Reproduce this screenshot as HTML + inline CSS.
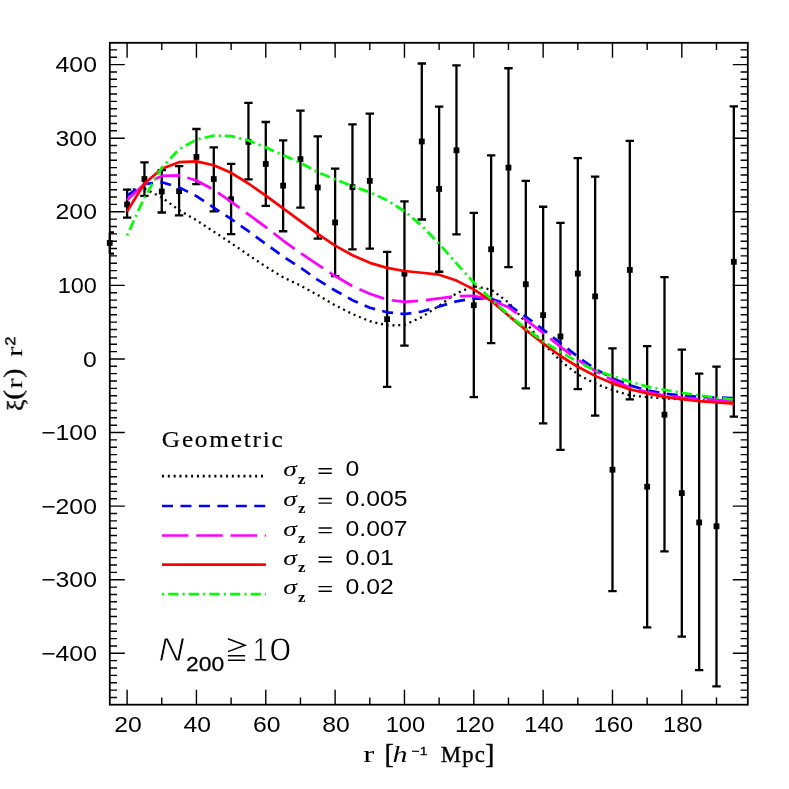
<!DOCTYPE html>
<html lang="en"><head><meta charset="utf-8"><title>xi(r) r^2</title>
<style>html,body{margin:0;padding:0;background:#fff}body{width:789px;height:789px;overflow:hidden;font-family:"Liberation Serif",serif}</style></head>
<body>
<svg width="789" height="789" viewBox="0 0 789 789" style="display:block">
<rect width="789" height="789" fill="#fff"/>
<g><path d="M109.76 232.38 V253.72 M109.76 232.38 h4.20 M109.76 253.72 h4.20" stroke="#000" stroke-width="2.30" fill="none"/><rect x="106.86" y="240.07" width="5.80" height="5.80" fill="#000"/><path d="M127.10 189.69 V217.66 M122.90 189.69 h8.40 M122.90 217.66 h8.40" stroke="#000" stroke-width="2.30" fill="none"/><rect x="124.20" y="201.51" width="5.80" height="5.80" fill="#000"/><path d="M144.44 162.46 V195.95 M140.24 162.46 h8.40 M140.24 195.95 h8.40" stroke="#000" stroke-width="2.30" fill="none"/><rect x="141.53" y="176.12" width="5.80" height="5.80" fill="#000"/><path d="M161.77 170.19 V212.51 M157.57 170.19 h8.40 M157.57 212.51 h8.40" stroke="#000" stroke-width="2.30" fill="none"/><rect x="158.87" y="188.63" width="5.80" height="5.80" fill="#000"/><path d="M179.10 166.14 V215.45 M174.91 166.14 h8.40 M174.91 215.45 h8.40" stroke="#000" stroke-width="2.30" fill="none"/><rect x="176.20" y="188.26" width="5.80" height="5.80" fill="#000"/><path d="M196.44 128.98 V184.17 M192.24 128.98 h8.40 M192.24 184.17 h8.40" stroke="#000" stroke-width="2.30" fill="none"/><rect x="193.54" y="154.05" width="5.80" height="5.80" fill="#000"/><path d="M213.77 147.38 V211.40 M209.57 147.38 h8.40 M209.57 211.40 h8.40" stroke="#000" stroke-width="2.30" fill="none"/><rect x="210.87" y="176.12" width="5.80" height="5.80" fill="#000"/><path d="M231.11 163.94 V234.21 M226.91 163.94 h8.40 M226.91 234.21 h8.40" stroke="#000" stroke-width="2.30" fill="none"/><rect x="228.21" y="196.36" width="5.80" height="5.80" fill="#000"/><path d="M248.44 102.86 V179.39 M244.25 102.86 h8.40 M244.25 179.39 h8.40" stroke="#000" stroke-width="2.30" fill="none"/><rect x="245.54" y="138.96" width="5.80" height="5.80" fill="#000"/><path d="M265.78 121.99 V205.88 M261.58 121.99 h8.40 M261.58 205.88 h8.40" stroke="#000" stroke-width="2.30" fill="none"/><rect x="262.88" y="161.04" width="5.80" height="5.80" fill="#000"/><path d="M283.12 140.39 V231.27 M278.92 140.39 h8.40 M278.92 231.27 h8.40" stroke="#000" stroke-width="2.30" fill="none"/><rect x="280.22" y="182.75" width="5.80" height="5.80" fill="#000"/><path d="M300.45 110.58 V207.72 M296.25 110.58 h8.40 M296.25 207.72 h8.40" stroke="#000" stroke-width="2.30" fill="none"/><rect x="297.55" y="156.25" width="5.80" height="5.80" fill="#000"/><path d="M317.78 136.34 V238.63 M313.58 136.34 h8.40 M313.58 238.63 h8.40" stroke="#000" stroke-width="2.30" fill="none"/><rect x="314.88" y="184.59" width="5.80" height="5.80" fill="#000"/><path d="M335.12 168.72 V276.16 M330.92 168.72 h8.40 M330.92 276.16 h8.40" stroke="#000" stroke-width="2.30" fill="none"/><rect x="332.22" y="219.54" width="5.80" height="5.80" fill="#000"/><path d="M352.46 124.42 V249.45 M348.26 124.42 h8.40 M348.26 249.45 h8.40" stroke="#000" stroke-width="2.30" fill="none"/><rect x="349.56" y="184.22" width="5.80" height="5.80" fill="#000"/><path d="M369.79 113.53 V248.56 M365.59 113.53 h8.40 M365.59 248.56 h8.40" stroke="#000" stroke-width="2.30" fill="none"/><rect x="366.89" y="177.96" width="5.80" height="5.80" fill="#000"/><path d="M387.12 251.88 V386.91 M382.93 251.88 h8.40 M382.93 386.91 h8.40" stroke="#000" stroke-width="2.30" fill="none"/><rect x="384.23" y="316.31" width="5.80" height="5.80" fill="#000"/><path d="M404.46 201.47 V345.70 M400.26 201.47 h8.40 M400.26 345.70 h8.40" stroke="#000" stroke-width="2.30" fill="none"/><rect x="401.56" y="270.69" width="5.80" height="5.80" fill="#000"/><path d="M421.79 63.49 V219.50 M417.59 63.49 h8.40 M417.59 219.50 h8.40" stroke="#000" stroke-width="2.30" fill="none"/><rect x="418.89" y="138.59" width="5.80" height="5.80" fill="#000"/><path d="M439.13 106.54 V271.75 M434.93 106.54 h8.40 M434.93 271.75 h8.40" stroke="#000" stroke-width="2.30" fill="none"/><rect x="436.23" y="186.06" width="5.80" height="5.80" fill="#000"/><path d="M456.47 65.33 V234.36 M452.27 65.33 h8.40 M452.27 234.36 h8.40" stroke="#000" stroke-width="2.30" fill="none"/><rect x="453.57" y="147.42" width="5.80" height="5.80" fill="#000"/><path d="M473.80 212.87 V397.22 M469.60 212.87 h8.40 M469.60 397.22 h8.40" stroke="#000" stroke-width="2.30" fill="none"/><rect x="470.90" y="302.33" width="5.80" height="5.80" fill="#000"/><path d="M491.13 155.33 V343.13 M486.94 155.33 h8.40 M486.94 343.13 h8.40" stroke="#000" stroke-width="2.30" fill="none"/><rect x="488.24" y="246.40" width="5.80" height="5.80" fill="#000"/><path d="M508.47 68.27 V267.18 M504.27 68.27 h8.40 M504.27 267.18 h8.40" stroke="#000" stroke-width="2.30" fill="none"/><rect x="505.57" y="164.72" width="5.80" height="5.80" fill="#000"/><path d="M525.80 180.86 V388.39 M521.60 180.86 h8.40 M521.60 388.39 h8.40" stroke="#000" stroke-width="2.30" fill="none"/><rect x="522.90" y="281.36" width="5.80" height="5.80" fill="#000"/><path d="M543.14 206.77 V423.34 M538.94 206.77 h8.40 M538.94 423.34 h8.40" stroke="#000" stroke-width="2.30" fill="none"/><rect x="540.24" y="312.26" width="5.80" height="5.80" fill="#000"/><path d="M560.48 222.81 V449.83 M556.27 222.81 h8.40 M556.27 449.83 h8.40" stroke="#000" stroke-width="2.30" fill="none"/><rect x="557.58" y="333.61" width="5.80" height="5.80" fill="#000"/><path d="M577.81 158.05 V389.12 M573.61 158.05 h8.40 M573.61 389.12 h8.40" stroke="#000" stroke-width="2.30" fill="none"/><rect x="574.91" y="270.69" width="5.80" height="5.80" fill="#000"/><path d="M595.14 176.59 V415.61 M590.94 176.59 h8.40 M590.94 415.61 h8.40" stroke="#000" stroke-width="2.30" fill="none"/><rect x="592.25" y="293.50" width="5.80" height="5.80" fill="#000"/><path d="M612.48 348.35 V591.20 M608.28 348.35 h8.40 M608.28 591.20 h8.40" stroke="#000" stroke-width="2.30" fill="none"/><rect x="609.58" y="466.80" width="5.80" height="5.80" fill="#000"/><path d="M629.82 140.83 V399.42 M625.62 140.83 h8.40 M625.62 399.42 h8.40" stroke="#000" stroke-width="2.30" fill="none"/><rect x="626.92" y="267.01" width="5.80" height="5.80" fill="#000"/><path d="M647.15 346.15 V627.41 M642.95 346.15 h8.40 M642.95 627.41 h8.40" stroke="#000" stroke-width="2.30" fill="none"/><rect x="644.25" y="483.80" width="5.80" height="5.80" fill="#000"/><path d="M664.49 277.04 V551.46 M660.28 277.04 h8.40 M660.28 551.46 h8.40" stroke="#000" stroke-width="2.30" fill="none"/><rect x="661.59" y="411.76" width="5.80" height="5.80" fill="#000"/><path d="M681.82 349.68 V636.61 M677.62 349.68 h8.40 M677.62 636.61 h8.40" stroke="#000" stroke-width="2.30" fill="none"/><rect x="678.92" y="490.20" width="5.80" height="5.80" fill="#000"/><path d="M699.16 373.67 V670.09 M694.96 373.67 h8.40 M694.96 670.09 h8.40" stroke="#000" stroke-width="2.30" fill="none"/><rect x="696.26" y="519.57" width="5.80" height="5.80" fill="#000"/><path d="M716.49 366.60 V686.28 M712.29 366.60 h8.40 M712.29 686.28 h8.40" stroke="#000" stroke-width="2.30" fill="none"/><rect x="713.59" y="523.39" width="5.80" height="5.80" fill="#000"/><path d="M733.83 106.39 V416.72 M729.62 106.39 h8.40 M729.62 416.72 h8.40" stroke="#000" stroke-width="2.30" fill="none"/><rect x="730.93" y="258.91" width="5.80" height="5.80" fill="#000"/></g>
<path d="M127.10 189.84 L144.44 188.59 L161.77 197.42 L179.10 210.15 L196.44 220.23 L213.77 231.64 L231.11 243.05 L248.44 254.97 L265.78 266.67 L283.12 277.27 L300.45 285.51 L317.78 295.07 L335.12 305.23 L352.46 314.06 L369.79 321.20 L387.12 325.47 L404.46 324.95 L421.79 317.08 L439.13 305.67 L456.47 293.31 L473.80 286.17 L491.13 289.55 L508.47 302.43 L525.80 322.52 L543.14 343.50 L560.48 360.86 L577.81 374.40 L595.14 383.68 L612.48 390.00 L629.82 395.38 L647.15 397.07 L664.49 398.32 L681.82 399.42 L699.16 400.16 L716.49 400.90 L733.83 401.63" fill="none" stroke="#000" stroke-width="2.30" stroke-linejoin="round" stroke-dasharray="2 3.82"/>
<path d="M127.10 195.58 L144.44 184.03 L161.77 182.19 L179.10 187.34 L196.44 196.17 L213.77 207.58 L231.11 218.98 L248.44 231.20 L265.78 243.86 L283.12 256.51 L300.45 267.70 L317.78 279.84 L335.12 290.51 L352.46 300.15 L369.79 307.73 L387.12 312.29 L404.46 314.06 L421.79 311.56 L439.13 306.48 L456.47 301.40 L473.80 298.39 L491.13 298.68 L508.47 304.79 L525.80 316.71 L543.14 329.51 L560.48 343.13 L577.81 356.74 L595.14 368.88 L612.48 378.30 L629.82 385.37 L647.15 390.45 L664.49 393.54 L681.82 395.60 L699.16 396.85 L716.49 397.58 L733.83 398.03" fill="none" stroke="#0000ff" stroke-width="2.70" stroke-linejoin="round" stroke-dasharray="11 7.45"/>
<path d="M127.10 200.00 L144.44 184.03 L161.77 175.93 L179.10 175.42 L196.44 180.49 L213.77 189.84 L231.11 201.76 L248.44 214.42 L265.78 227.08 L283.12 240.54 L300.45 252.98 L317.78 264.61 L335.12 276.01 L352.46 286.17 L369.79 293.82 L387.12 299.64 L404.46 301.92 L421.79 300.67 L439.13 298.39 L456.47 296.10 L473.80 295.81 L491.13 299.86 L508.47 307.29 L525.80 320.02 L543.14 332.83 L560.48 346.81 L577.81 359.83 L595.14 370.95 L612.48 380.14 L629.82 387.50 L647.15 392.07 L664.49 395.52 L681.82 397.58 L699.16 399.06 L716.49 400.16 L733.83 400.90" fill="none" stroke="#ff00ff" stroke-width="2.70" stroke-linejoin="round" stroke-dasharray="26.4 7.9"/>
<path d="M127.10 211.40 L144.44 183.51 L161.77 168.79 L179.10 162.17 L196.44 161.43 L213.77 165.26 L231.11 172.84 L248.44 183.51 L265.78 195.65 L283.12 208.38 L300.45 221.04 L317.78 233.85 L335.12 245.62 L352.46 255.26 L369.79 262.84 L387.12 267.92 L404.46 271.01 L421.79 272.78 L439.13 274.69 L456.47 280.58 L473.80 289.41 L491.13 300.81 L508.47 315.53 L525.80 329.88 L543.14 343.35 L560.48 356.01 L577.81 366.75 L595.14 375.88 L612.48 383.38 L629.82 389.20 L647.15 393.46 L664.49 396.85 L681.82 399.06 L699.16 401.19 L716.49 402.44 L733.83 403.55" fill="none" stroke="#ff0000" stroke-width="2.70" stroke-linejoin="round"/>
<path d="M127.10 235.47 L144.44 197.49 L161.77 167.76 L179.10 149.29 L196.44 139.65 L213.77 135.60 L231.11 136.12 L248.44 140.39 L265.78 147.53 L283.12 155.11 L300.45 162.83 L317.78 172.10 L335.12 179.39 L352.46 186.31 L369.79 192.12 L387.12 200.22 L404.46 211.25 L421.79 225.60 L439.13 243.78 L456.47 263.36 L473.80 282.56 L491.13 298.97 L508.47 314.65 L525.80 328.56 L543.14 341.29 L560.48 351.96 L577.81 361.89 L595.14 370.36 L612.48 376.02 L629.82 381.62 L647.15 386.55 L664.49 389.78 L681.82 392.73 L699.16 395.38 L716.49 397.58 L733.83 399.42" fill="none" stroke="#00ff00" stroke-width="2.70" stroke-linejoin="round" stroke-dasharray="2.1 4.1 10.2 4.2"/>
<path d="M127.10 704.70 v-15.00 M127.10 42.80 v15.00 M161.77 704.70 v-7.20 M161.77 42.80 v7.20 M196.44 704.70 v-15.00 M196.44 42.80 v15.00 M231.11 704.70 v-7.20 M231.11 42.80 v7.20 M265.78 704.70 v-15.00 M265.78 42.80 v15.00 M300.45 704.70 v-7.20 M300.45 42.80 v7.20 M335.12 704.70 v-15.00 M335.12 42.80 v15.00 M369.79 704.70 v-7.20 M369.79 42.80 v7.20 M404.46 704.70 v-15.00 M404.46 42.80 v15.00 M439.13 704.70 v-7.20 M439.13 42.80 v7.20 M473.80 704.70 v-15.00 M473.80 42.80 v15.00 M508.47 704.70 v-7.20 M508.47 42.80 v7.20 M543.14 704.70 v-15.00 M543.14 42.80 v15.00 M577.81 704.70 v-7.20 M577.81 42.80 v7.20 M612.48 704.70 v-15.00 M612.48 42.80 v15.00 M647.15 704.70 v-7.20 M647.15 42.80 v7.20 M681.82 704.70 v-15.00 M681.82 42.80 v15.00 M716.49 704.70 v-7.20 M716.49 42.80 v7.20 M109.80 697.46 h7.20 M747.80 697.46 h-7.20 M109.80 690.11 h7.20 M747.80 690.11 h-7.20 M109.80 682.75 h7.20 M747.80 682.75 h-7.20 M109.80 675.39 h7.20 M747.80 675.39 h-7.20 M109.80 668.03 h7.20 M747.80 668.03 h-7.20 M109.80 660.67 h7.20 M747.80 660.67 h-7.20 M109.80 653.31 h15.00 M747.80 653.31 h-15.00 M109.80 645.95 h7.20 M747.80 645.95 h-7.20 M109.80 638.59 h7.20 M747.80 638.59 h-7.20 M109.80 631.23 h7.20 M747.80 631.23 h-7.20 M109.80 623.87 h7.20 M747.80 623.87 h-7.20 M109.80 616.51 h7.20 M747.80 616.51 h-7.20 M109.80 609.16 h7.20 M747.80 609.16 h-7.20 M109.80 601.80 h7.20 M747.80 601.80 h-7.20 M109.80 594.44 h7.20 M747.80 594.44 h-7.20 M109.80 587.08 h7.20 M747.80 587.08 h-7.20 M109.80 579.72 h15.00 M747.80 579.72 h-15.00 M109.80 572.36 h7.20 M747.80 572.36 h-7.20 M109.80 565.00 h7.20 M747.80 565.00 h-7.20 M109.80 557.64 h7.20 M747.80 557.64 h-7.20 M109.80 550.28 h7.20 M747.80 550.28 h-7.20 M109.80 542.92 h7.20 M747.80 542.92 h-7.20 M109.80 535.57 h7.20 M747.80 535.57 h-7.20 M109.80 528.21 h7.20 M747.80 528.21 h-7.20 M109.80 520.85 h7.20 M747.80 520.85 h-7.20 M109.80 513.49 h7.20 M747.80 513.49 h-7.20 M109.80 506.13 h15.00 M747.80 506.13 h-15.00 M109.80 498.77 h7.20 M747.80 498.77 h-7.20 M109.80 491.41 h7.20 M747.80 491.41 h-7.20 M109.80 484.05 h7.20 M747.80 484.05 h-7.20 M109.80 476.69 h7.20 M747.80 476.69 h-7.20 M109.80 469.33 h7.20 M747.80 469.33 h-7.20 M109.80 461.98 h7.20 M747.80 461.98 h-7.20 M109.80 454.62 h7.20 M747.80 454.62 h-7.20 M109.80 447.26 h7.20 M747.80 447.26 h-7.20 M109.80 439.90 h7.20 M747.80 439.90 h-7.20 M109.80 432.54 h15.00 M747.80 432.54 h-15.00 M109.80 425.18 h7.20 M747.80 425.18 h-7.20 M109.80 417.82 h7.20 M747.80 417.82 h-7.20 M109.80 410.46 h7.20 M747.80 410.46 h-7.20 M109.80 403.10 h7.20 M747.80 403.10 h-7.20 M109.80 395.75 h7.20 M747.80 395.75 h-7.20 M109.80 388.39 h7.20 M747.80 388.39 h-7.20 M109.80 381.03 h7.20 M747.80 381.03 h-7.20 M109.80 373.67 h7.20 M747.80 373.67 h-7.20 M109.80 366.31 h7.20 M747.80 366.31 h-7.20 M109.80 358.95 h15.00 M747.80 358.95 h-15.00 M109.80 351.59 h7.20 M747.80 351.59 h-7.20 M109.80 344.23 h7.20 M747.80 344.23 h-7.20 M109.80 336.87 h7.20 M747.80 336.87 h-7.20 M109.80 329.51 h7.20 M747.80 329.51 h-7.20 M109.80 322.15 h7.20 M747.80 322.15 h-7.20 M109.80 314.80 h7.20 M747.80 314.80 h-7.20 M109.80 307.44 h7.20 M747.80 307.44 h-7.20 M109.80 300.08 h7.20 M747.80 300.08 h-7.20 M109.80 292.72 h7.20 M747.80 292.72 h-7.20 M109.80 285.36 h15.00 M747.80 285.36 h-15.00 M109.80 278.00 h7.20 M747.80 278.00 h-7.20 M109.80 270.64 h7.20 M747.80 270.64 h-7.20 M109.80 263.28 h7.20 M747.80 263.28 h-7.20 M109.80 255.92 h7.20 M747.80 255.92 h-7.20 M109.80 248.56 h7.20 M747.80 248.56 h-7.20 M109.80 241.21 h7.20 M747.80 241.21 h-7.20 M109.80 233.85 h7.20 M747.80 233.85 h-7.20 M109.80 226.49 h7.20 M747.80 226.49 h-7.20 M109.80 219.13 h7.20 M747.80 219.13 h-7.20 M109.80 211.77 h15.00 M747.80 211.77 h-15.00 M109.80 204.41 h7.20 M747.80 204.41 h-7.20 M109.80 197.05 h7.20 M747.80 197.05 h-7.20 M109.80 189.69 h7.20 M747.80 189.69 h-7.20 M109.80 182.33 h7.20 M747.80 182.33 h-7.20 M109.80 174.97 h7.20 M747.80 174.97 h-7.20 M109.80 167.62 h7.20 M747.80 167.62 h-7.20 M109.80 160.26 h7.20 M747.80 160.26 h-7.20 M109.80 152.90 h7.20 M747.80 152.90 h-7.20 M109.80 145.54 h7.20 M747.80 145.54 h-7.20 M109.80 138.18 h15.00 M747.80 138.18 h-15.00 M109.80 130.82 h7.20 M747.80 130.82 h-7.20 M109.80 123.46 h7.20 M747.80 123.46 h-7.20 M109.80 116.10 h7.20 M747.80 116.10 h-7.20 M109.80 108.74 h7.20 M747.80 108.74 h-7.20 M109.80 101.38 h7.20 M747.80 101.38 h-7.20 M109.80 94.03 h7.20 M747.80 94.03 h-7.20 M109.80 86.67 h7.20 M747.80 86.67 h-7.20 M109.80 79.31 h7.20 M747.80 79.31 h-7.20 M109.80 71.95 h7.20 M747.80 71.95 h-7.20 M109.80 64.59 h15.00 M747.80 64.59 h-15.00 M109.80 57.23 h7.20 M747.80 57.23 h-7.20 M109.80 49.87 h7.20 M747.80 49.87 h-7.20" stroke="#000" stroke-width="1.40" fill="none"/>
<rect x="109.80" y="42.80" width="638.00" height="661.90" fill="none" stroke="#000" stroke-width="1.8"/>
<g fill="#000" opacity="0.999">
<text transform="translate(128.00 732.2) scale(1.157 1)" text-anchor="middle" font-size="21.4" font-family="Liberation Sans, sans-serif" >20</text>
<text transform="translate(197.34 732.2) scale(1.157 1)" text-anchor="middle" font-size="21.4" font-family="Liberation Sans, sans-serif" >40</text>
<text transform="translate(266.68 732.2) scale(1.157 1)" text-anchor="middle" font-size="21.4" font-family="Liberation Sans, sans-serif" >60</text>
<text transform="translate(336.02 732.2) scale(1.157 1)" text-anchor="middle" font-size="21.4" font-family="Liberation Sans, sans-serif" >80</text>
<text transform="translate(405.36 732.2) scale(1.105 1)" text-anchor="middle" font-size="21.4" font-family="Liberation Sans, sans-serif" >100</text>
<text transform="translate(474.70 732.2) scale(1.105 1)" text-anchor="middle" font-size="21.4" font-family="Liberation Sans, sans-serif" >120</text>
<text transform="translate(544.04 732.2) scale(1.105 1)" text-anchor="middle" font-size="21.4" font-family="Liberation Sans, sans-serif" >140</text>
<text transform="translate(613.38 732.2) scale(1.105 1)" text-anchor="middle" font-size="21.4" font-family="Liberation Sans, sans-serif" >160</text>
<text transform="translate(682.72 732.2) scale(1.105 1)" text-anchor="middle" font-size="21.4" font-family="Liberation Sans, sans-serif" >180</text>
<text transform="translate(96.9 660.91) scale(1.157 1)" text-anchor="end" font-size="21.4" font-family="Liberation Sans, sans-serif" >−400</text>
<text transform="translate(96.9 587.32) scale(1.157 1)" text-anchor="end" font-size="21.4" font-family="Liberation Sans, sans-serif" >−300</text>
<text transform="translate(96.9 513.73) scale(1.157 1)" text-anchor="end" font-size="21.4" font-family="Liberation Sans, sans-serif" >−200</text>
<text transform="translate(96.9 440.14) scale(1.157 1)" text-anchor="end" font-size="21.4" font-family="Liberation Sans, sans-serif" >−100</text>
<text transform="translate(96.9 366.55) scale(1.157 1)" text-anchor="end" font-size="21.4" font-family="Liberation Sans, sans-serif" >0</text>
<text transform="translate(96.9 292.96) scale(1.100 1)" text-anchor="end" font-size="21.4" font-family="Liberation Sans, sans-serif" >100</text>
<text transform="translate(96.9 219.37) scale(1.157 1)" text-anchor="end" font-size="21.4" font-family="Liberation Sans, sans-serif" >200</text>
<text transform="translate(96.9 145.78) scale(1.157 1)" text-anchor="end" font-size="21.4" font-family="Liberation Sans, sans-serif" >300</text>
<text transform="translate(96.9 72.19) scale(1.157 1)" text-anchor="end" font-size="21.4" font-family="Liberation Sans, sans-serif" >400</text>
<text transform="translate(363.24 761.60) scale(1.5111 1.0476)" font-size="22" font-family="Liberation Serif, serif" >r</text>
<text transform="translate(384.55 762.76) scale(1.2842 1.2811)" font-size="22" font-family="Liberation Serif, serif" stroke="#000" stroke-width="0.35">[</text>
<text transform="translate(392.58 761.60) scale(1.3622 1.0581)" font-size="22" font-family="Liberation Serif, serif" font-style="italic" >h</text>
<text transform="translate(411.74 754.80) scale(1.1510 0.9697)" font-size="12" font-family="Liberation Sans, sans-serif" stroke="#000" stroke-width="0.35">−1</text>
<text transform="translate(440.72 761.56) scale(1.0352 1.0182)" font-size="22" font-family="Liberation Serif, serif" letter-spacing="0.055em" stroke="#000" stroke-width="0.35">Mpc</text>
<text transform="translate(485.04 762.76) scale(1.2800 1.2811)" font-size="22" font-family="Liberation Serif, serif" stroke="#000" stroke-width="0.35">]</text>
<g transform="translate(22.2 410) rotate(-90)">
<text transform="translate(-0.98 0.75) scale(1.1758 1.0256)" font-size="22" font-family="Liberation Serif, serif" stroke="#000" stroke-width="0.35">ξ</text>
<text transform="translate(10.25 -1.19) scale(1.3455 1.1544)" font-size="22" font-family="Liberation Serif, serif" stroke="#000" stroke-width="0.35">(</text>
<text transform="translate(21.18 0.00) scale(1.4370 1.0857)" font-size="22" font-family="Liberation Serif, serif" >r</text>
<text transform="translate(32.37 -1.41) scale(1.2364 1.1400)" font-size="22" font-family="Liberation Serif, serif" stroke="#000" stroke-width="0.35">)</text>
<text transform="translate(53.08 0.00) scale(1.4370 1.0857)" font-size="22" font-family="Liberation Serif, serif" >r</text>
<text transform="translate(64.23 -7.40) scale(1.2870 1.0778)" font-size="13" font-family="Liberation Sans, sans-serif" stroke="#000" stroke-width="0.35">2</text>
</g>
<text transform="translate(161.85 447.40) scale(1.1498 1.0483)" font-size="22" font-family="Liberation Serif, serif" letter-spacing="0.07em" stroke="#000" stroke-width="0.2">Geometric</text>
<path d="M162 476.20 H265.9" stroke="#000" stroke-width="2.70" fill="none" stroke-dasharray="2 3.82"/>
<text transform="translate(283.26 476.20) scale(1.2558 0.9739)" font-size="22" font-family="Liberation Serif, serif" font-style="italic" >σ</text>
<text transform="translate(298.08 483.60) scale(1.2952 1.1333)" font-size="13" font-family="Liberation Serif, serif" font-weight="bold" >z</text>
<path d="M318.5 468.70 h13.3 M318.5 473.30 h13.3" stroke="#000" stroke-width="1.4" fill="none"/>
<text transform="translate(345.6 476.40) scale(1.157 1)" font-size="21.4" font-family="Liberation Sans, sans-serif" >0</text>
<path d="M162 506.00 H265.9" stroke="#0000ff" stroke-width="2.70" fill="none" stroke-dasharray="11 7.45"/>
<text transform="translate(283.26 506.00) scale(1.2558 0.9739)" font-size="22" font-family="Liberation Serif, serif" font-style="italic" >σ</text>
<text transform="translate(298.08 513.40) scale(1.2952 1.1333)" font-size="13" font-family="Liberation Serif, serif" font-weight="bold" >z</text>
<path d="M318.5 498.50 h13.3 M318.5 503.10 h13.3" stroke="#000" stroke-width="1.4" fill="none"/>
<text transform="translate(345.6 506.20) scale(1.157 1)" font-size="21.4" font-family="Liberation Sans, sans-serif" >0.005</text>
<path d="M162 535.50 H265.9" stroke="#ff00ff" stroke-width="2.70" fill="none" stroke-dasharray="26.4 7.9"/>
<text transform="translate(283.26 535.50) scale(1.2558 0.9739)" font-size="22" font-family="Liberation Serif, serif" font-style="italic" >σ</text>
<text transform="translate(298.08 542.90) scale(1.2952 1.1333)" font-size="13" font-family="Liberation Serif, serif" font-weight="bold" >z</text>
<path d="M318.5 528.00 h13.3 M318.5 532.60 h13.3" stroke="#000" stroke-width="1.4" fill="none"/>
<text transform="translate(345.6 535.70) scale(1.157 1)" font-size="21.4" font-family="Liberation Sans, sans-serif" >0.007</text>
<path d="M162 564.70 H265.9" stroke="#ff0000" stroke-width="2.70" fill="none"/>
<text transform="translate(283.26 564.70) scale(1.2558 0.9739)" font-size="22" font-family="Liberation Serif, serif" font-style="italic" >σ</text>
<text transform="translate(298.08 572.10) scale(1.2952 1.1333)" font-size="13" font-family="Liberation Serif, serif" font-weight="bold" >z</text>
<path d="M318.5 557.20 h13.3 M318.5 561.80 h13.3" stroke="#000" stroke-width="1.4" fill="none"/>
<text transform="translate(345.6 564.90) scale(1.157 1)" font-size="21.4" font-family="Liberation Sans, sans-serif" >0.01</text>
<path d="M162 594.10 H265.9" stroke="#00ff00" stroke-width="2.70" fill="none" stroke-dasharray="2.1 4.1 10.2 4.2"/>
<text transform="translate(283.26 594.10) scale(1.2558 0.9739)" font-size="22" font-family="Liberation Serif, serif" font-style="italic" >σ</text>
<text transform="translate(298.08 601.50) scale(1.2952 1.1333)" font-size="13" font-family="Liberation Serif, serif" font-weight="bold" >z</text>
<path d="M318.5 586.60 h13.3 M318.5 591.20 h13.3" stroke="#000" stroke-width="1.4" fill="none"/>
<text transform="translate(345.6 594.30) scale(1.157 1)" font-size="21.4" font-family="Liberation Sans, sans-serif" >0.02</text>
<text transform="translate(158.41 661.10) scale(1.0857 1.0198)" font-size="33" font-family="Liberation Sans, sans-serif" font-style="italic" stroke="#fff" stroke-width="0.8">N</text>
<text transform="translate(185.95 671.00) scale(1.1460 1.0286)" font-size="20" font-family="Liberation Sans, sans-serif" stroke="#000" stroke-width="0.25">200</text>
<path d="M227.9 638.7 L245.1 645.3 L227.9 651.6 M227.9 655.8 h17.2 M227.9 660.2 h17.2" stroke="#000" stroke-width="1.45" fill="none"/>
<text transform="translate(252.73 661.10) scale(0.8281 1.0198)" font-size="33" font-family="Liberation Sans, sans-serif" stroke="#fff" stroke-width="0.8">1</text>
<text transform="translate(269.19 661.30) scale(1.2063 1.0261)" font-size="33" font-family="Liberation Sans, sans-serif" stroke="#fff" stroke-width="0.8">0</text>
</g>
</svg>
</body></html>
